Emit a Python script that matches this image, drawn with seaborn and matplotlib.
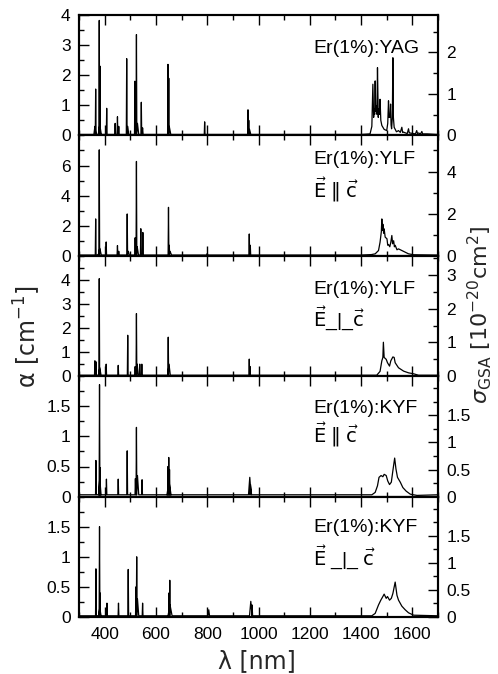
import numpy as np
import pandas as pd
import matplotlib
matplotlib.use("Agg")
import matplotlib.pyplot as plt
import seaborn as sns
from matplotlib.ticker import MultipleLocator, FixedLocator, FuncFormatter

sns.set_theme(style="ticks")
plt.rcParams["font.family"] = ["Liberation Sans", "DejaVu Sans"]
plt.rcParams["mathtext.fontset"] = "dejavusans"

# ---------------- data ----------------
XMIN, XMAX = 300, 1700
x_ticks_major = [400, 600, 800, 1000, 1200, 1400, 1600]

# Er(1%):YAG
yag_line_nm = [362, 365, 379, 381, 382, 408, 441, 450, 455, 486, 490, 518, 524, 528, 543, 548, 647, 650, 652, 790, 959, 962, 965]
yag_line_alpha = [0.30, 1.54, 3.82, 0.35, 2.30, 0.90, 0.40, 0.62, 0.30, 2.55, 0.30, 1.80, 3.35, 0.40, 1.10, 0.25, 2.36, 1.90, 0.30, 0.45, 0.85, 0.50, 0.20]
yag_line_hw = [4, 1.5, 1.5, 6, 1.5, 1.5, 1.5, 1.5, 1.5, 1.5, 4, 1.5, 1.5, 5, 1.5, 2, 1.5, 1.5, 6, 1.5, 1.5, 1.5, 5]
yag_band_nm = [1400, 1435, 1442, 1446, 1449, 1451, 1453, 1455, 1457, 1459, 1462, 1464, 1467, 1469, 1472, 1474, 1477, 1481, 1490, 1500, 1504, 1507, 1509, 1511, 1513, 1515, 1517, 1519, 1522, 1524, 1526, 1529, 1538, 1546, 1553, 1559, 1562, 1565, 1580, 1585, 1588, 1591, 1612, 1617, 1620, 1624, 1632, 1637, 1640, 1657]
yag_band_alpha = [0.03, 0.05, 0.30, 1.70, 0.60, 0.88, 0.70, 1.81, 0.80, 0.99, 0.70, 2.25, 0.60, 0.88, 0.70, 1.20, 0.50, 0.33, 0.20, 0.16, 0.40, 1.15, 0.60, 0.66, 0.60, 1.04, 0.35, 0.22, 0.60, 2.58, 0.60, 0.27, 0.12, 0.16, 0.10, 0.27, 0.10, 0.11, 0.06, 0.22, 0.08, 0.08, 0.05, 0.16, 0.06, 0.08, 0.05, 0.13, 0.05, 0.05]

# Er(1%):YLF  E || c
ylfp_line_nm = [365, 379, 381, 406, 450, 455, 488, 492, 519, 524, 527, 541, 549, 649, 652, 655, 800, 964, 968]
ylfp_line_alpha = [2.45, 7.04, 0.50, 0.92, 0.68, 0.30, 2.78, 0.30, 1.20, 6.27, 0.60, 1.80, 1.55, 3.22, 0.70, 0.30, 0.15, 1.45, 0.70]
ylfp_line_hw = [1.5, 1.5, 6, 1.5, 1.5, 1.5, 1.5, 4, 1.5, 1.5, 5, 1.5, 1.5, 1.5, 1.5, 6, 3, 1.5, 1.5]
ylfp_band_nm = [1400, 1440, 1455, 1468, 1474, 1479, 1481, 1483, 1485, 1488, 1490, 1494, 1501, 1504, 1507, 1512, 1516, 1520, 1523, 1527, 1530, 1533, 1540, 1546, 1559, 1572, 1585, 1605]
ylfp_band_alpha = [0.05, 0.08, 0.13, 0.35, 0.90, 1.60, 2.45, 1.70, 2.10, 1.50, 1.79, 1.24, 1.13, 0.70, 0.75, 0.60, 0.90, 1.35, 0.80, 1.00, 0.60, 0.70, 0.40, 0.46, 0.35, 0.24, 0.13, 0.07]

# Er(1%):YLF  E _|_ c
ylfs_line_nm = [362, 366, 379, 381, 406, 453, 490, 519, 524, 527, 537, 545, 648, 651, 964, 967]
ylfs_line_alpha = [0.64, 0.60, 4.05, 0.35, 0.50, 0.45, 1.70, 0.40, 2.60, 0.50, 0.50, 0.50, 1.62, 0.50, 0.71, 0.40]
ylfs_line_hw = [1.5, 1.5, 1.5, 5, 1.5, 1.5, 1.5, 1.5, 1.5, 4, 1.5, 1.5, 1.5, 5, 1.5, 1.5]
ylfs_band_nm = [1400, 1461, 1474, 1481, 1485, 1487, 1490, 1498, 1503, 1511, 1516, 1524, 1529, 1533, 1546, 1566, 1585, 1605, 1624]
ylfs_band_alpha = [0.04, 0.04, 0.20, 0.64, 0.78, 1.41, 0.78, 0.70, 0.56, 0.42, 0.64, 0.80, 0.78, 0.56, 0.35, 0.21, 0.14, 0.10, 0.04]

# Er(1%):KYF  E || c
kyfp_line_nm = [366, 380, 381, 382, 407, 453, 488, 520, 524, 528, 546, 647, 650, 651, 653, 966, 969]
kyfp_line_alpha = [0.60, 1.86, 0.30, 0.48, 0.29, 0.29, 0.76, 0.30, 1.15, 0.35, 0.28, 0.50, 0.65, 0.25, 0.45, 0.32, 0.20]
kyfp_line_hw = [1.5, 1.5, 5, 1.5, 1.5, 1.5, 1.5, 1.5, 1.5, 5, 1.5, 1.5, 1.5, 8, 1.5, 5, 4]
kyfp_band_nm = [1400, 1442, 1455, 1464, 1470, 1478, 1485, 1490, 1498, 1504, 1511, 1518, 1524, 1531, 1536, 1542, 1553, 1563, 1576, 1592, 1618]
kyfp_band_alpha = [0.03, 0.03, 0.07, 0.18, 0.32, 0.35, 0.33, 0.37, 0.35, 0.26, 0.20, 0.24, 0.43, 0.64, 0.46, 0.32, 0.24, 0.15, 0.09, 0.04, 0.02]

# Er(1%):KYF  E _|_ c
kyfs_line_nm = [366, 380, 381, 382, 409, 454, 492, 522, 525, 528, 548, 651, 654, 655, 806, 970, 975]
kyfs_line_alpha = [0.80, 1.50, 0.15, 0.40, 0.23, 0.23, 0.79, 0.50, 1.00, 0.30, 0.23, 0.40, 0.61, 0.20, 0.12, 0.26, 0.20]
kyfs_line_hw = [1.5, 1.5, 5, 1.5, 1.5, 1.5, 1.5, 1.5, 1.5, 5, 1.5, 1.5, 1.5, 8, 3, 5, 2]
kyfs_band_nm = [1400, 1442, 1455, 1468, 1477, 1485, 1490, 1498, 1503, 1511, 1518, 1524, 1533, 1540, 1546, 1559, 1572, 1585, 1605]
kyfs_band_alpha = [0.02, 0.02, 0.06, 0.20, 0.28, 0.34, 0.38, 0.31, 0.34, 0.28, 0.31, 0.39, 0.58, 0.36, 0.28, 0.18, 0.12, 0.07, 0.03]

panel_names = ["Er(1%):YAG", "Er(1%):YLF", "Er(1%):YLF", "Er(1%):KYF", "Er(1%):KYF"]
panel_pol = [None,
             r"$\vec{\mathrm{E}}\;\Vert\;\vec{\mathrm{c}}$",
             r"$\vec{\mathrm{E}}$_|_$\vec{\mathrm{c}}$",
             r"$\vec{\mathrm{E}}\;\Vert\;\vec{\mathrm{c}}$",
             r"$\vec{\mathrm{E}}$ _|_ $\vec{\mathrm{c}}$"]
baseline = [0.03, 0.05, 0.04, 0.03, 0.02]
alpha_max = [4.0, 8.0, 5.0, 2.0, 2.0]
alpha_labels = [[0, 1, 2, 3, 4], [0, 2, 4, 6], [0, 1, 2, 3, 4], [0, 0.5, 1, 1.5], [0, 0.5, 1, 1.5]]
alpha_minor = [0.5, 1, 0.5, 0.25, 0.25]
n_er = [1.38, 1.40, 1.40, 0.90, 0.90]  # 10^20 cm^-3
sigma_labels = [[0, 1, 2], [0, 2, 4], [0, 1, 2, 3], [0, 0.5, 1, 1.5], [0, 0.5, 1, 1.5]]
sigma_minor = [0.5, 1, 0.5, 0.25, 0.25]

lines = [(yag_line_nm, yag_line_alpha, yag_line_hw, yag_band_nm, yag_band_alpha),
         (ylfp_line_nm, ylfp_line_alpha, ylfp_line_hw, ylfp_band_nm, ylfp_band_alpha),
         (ylfs_line_nm, ylfs_line_alpha, ylfs_line_hw, ylfs_band_nm, ylfs_band_alpha),
         (kyfp_line_nm, kyfp_line_alpha, kyfp_line_hw, kyfp_band_nm, kyfp_band_alpha),
         (kyfs_line_nm, kyfs_line_alpha, kyfs_line_hw, kyfs_band_nm, kyfs_band_alpha)]


def build_trace(l_nm, l_a, l_hw, b_nm, b_a, base):
    xs, ys = [XMIN], [base]
    for c, h, w in sorted(zip(l_nm, l_a, l_hw)):
        xs += [c - w, c, c + w]
        ys += [base, h, base]
    xs += list(b_nm)
    ys += list(b_a)
    xs.append(XMAX)
    ys.append(base)
    return pd.DataFrame({"wl": xs, "alpha": ys})


fig = plt.figure(figsize=(4.98, 6.74), dpi=100)
gs = fig.add_gridspec(5, 1, left=79 / 498, right=438 / 498,
                      top=1 - 15 / 674, bottom=1 - 617 / 674, hspace=0)

fmt = FuncFormatter(lambda v, _: f"{v:g}")
tick_font = 12.5
ann_y = [(0.72, None), (0.80, 0.545), (0.72, 0.48), (0.735, 0.51), (0.744, 0.50)]

for i in range(5):
    ax = fig.add_subplot(gs[i])
    df = build_trace(*lines[i], baseline[i])
    sns.lineplot(data=df, x="wl", y="alpha", sort=False, estimator=None,
                 color="black", lw=0.9, ax=ax)
    ax.set_xlim(XMIN, XMAX)
    ax.set_ylim(0, alpha_max[i])
    ax.set_xlabel("")
    ax.set_ylabel("")
    ax.xaxis.set_major_locator(FixedLocator(x_ticks_major))
    ax.xaxis.set_minor_locator(MultipleLocator(100))
    ax.yaxis.set_major_locator(FixedLocator(alpha_labels[i]))
    ax.yaxis.set_minor_locator(MultipleLocator(alpha_minor[i]))
    ax.yaxis.set_major_formatter(fmt)
    ax.tick_params(axis="both", which="both", direction="in", top=True, bottom=True,
                   left=True, right=False, color="black", width=1.0)
    ax.tick_params(axis="both", which="major", length=7)
    ax.tick_params(axis="both", which="minor", length=3.5)
    ax.tick_params(axis="y", labelsize=tick_font, pad=6, labelcolor="black")
    ax.tick_params(axis="x", labelsize=tick_font, pad=7, labelcolor="black")
    if i < 4:
        ax.tick_params(axis="x", labelbottom=False)
    for s in ax.spines.values():
        s.set_color("black")
        s.set_linewidth(1.5)

    tw = ax.twinx()
    tw.set_ylim(0, alpha_max[i] / n_er[i])
    tw.yaxis.set_major_locator(FixedLocator(sigma_labels[i]))
    tw.yaxis.set_minor_locator(MultipleLocator(sigma_minor[i]))
    tw.yaxis.set_major_formatter(fmt)
    tw.tick_params(axis="y", which="both", direction="in", right=True, left=False,
                   color="black", width=1.0, labelsize=tick_font, pad=6, labelcolor="black")
    tw.tick_params(axis="y", which="major", length=7)
    tw.tick_params(axis="y", which="minor", length=3.5)
    for s in tw.spines.values():
        s.set_color("black")
        s.set_linewidth(1.5)

    y1, y2 = ann_y[i]
    ax.text(0.652, y1, panel_names[i], transform=ax.transAxes, ha="left", va="center",
            fontsize=14, color="black")
    if panel_pol[i] is not None:
        ax.text(0.652, y2, panel_pol[i], transform=ax.transAxes, ha="left", va="center",
                fontsize=14, color="black")
    if i == 4:
        ax.set_xticklabels([str(v) for v in x_ticks_major])

fig.text(27 / 498, 1 - 337 / 674, r"α [cm$^{-1}$]", rotation=90, ha="center", va="center",
         fontsize=17, family=["DejaVu Sans"])
fig.text(480 / 498, 1 - 315 / 674, r"$\sigma_{\mathrm{GSA}}$ [10$^{-20}$cm$^{2}$]", rotation=90,
         ha="center", va="center", fontsize=16, family=["DejaVu Sans"])
fig.text(257 / 498, 1 - 661 / 674, "λ [nm]", ha="center", va="center",
         fontsize=17, family=["DejaVu Sans"])

fig.savefig("out.png", dpi=100, facecolor="white")
